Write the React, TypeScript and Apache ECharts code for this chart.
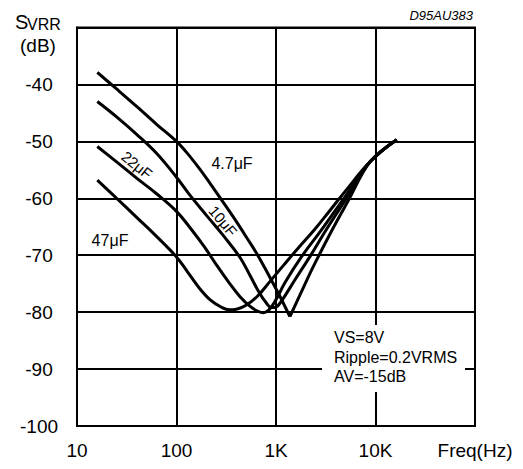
import React, { useEffect, useRef } from 'react';
import * as echarts from 'echarts';

// Axis ticks
const xTickValues = [10, 100, 1000, 10000, 100000];
const xTickLabels = ['10', '100', '1K', '10K', 'Freq(Hz)'];
const yTickValues = [-100, -90, -80, -70, -60, -50, -40, -30];
const yTickLabels = ['-100', '-90', '-80', '-70', '-60', '-50', '-40', ''];

// Curves (frequency in Hz, SVRR in dB)
const curveNames = ['4.7μF', '10μF', '22μF', '47μF'];

const freq4u7 = [16, 25, 40, 63, 100, 130, 170, 220, 300, 400, 520, 640, 870, 1100, 1380, 2036, 2466, 3630, 5333, 8810, 16330];
const db4u7 = [-37.9, -40.8, -43.9, -47.0, -50.0, -52.2, -54.8, -57.5, -60.9, -64.1, -67.2, -69.7, -73.9, -77.3, -80.8, -74.4, -71.4, -65.7, -60.4, -53.6, -49.7];

const freq10u = [16, 25, 40, 63, 100, 137, 200, 300, 435, 550, 680, 800, 900, 1000, 1150, 1552, 2200, 3233, 5300, 8810, 16330];
const db10u = [-43.0, -45.7, -48.8, -52.1, -56.3, -59.5, -63.0, -66.7, -70.4, -73.6, -76.6, -78.4, -79.2, -79.1, -77.9, -74.3, -70.2, -65.4, -59.6, -53.6, -49.7];

const freq22u = [16, 25, 40, 63, 100, 140, 190, 250, 330, 435, 550, 650, 750, 850, 1000, 1232, 1800, 2877, 5000, 8810, 16330];
const db22u = [-50.9, -53.6, -56.5, -59.2, -62.3, -65.4, -68.5, -71.6, -74.6, -77.3, -79.0, -79.8, -80.1, -79.6, -77.8, -74.8, -70.3, -65.5, -59.6, -53.6, -49.7];

const freq47u = [16, 25, 40, 63, 100, 130, 170, 220, 280, 340, 400, 500, 650, 871, 1200, 1700, 2468, 3500, 5000, 8810, 16330];
const db47u = [-56.8, -60.0, -63.4, -66.7, -70.3, -73.0, -75.8, -77.9, -79.1, -79.6, -79.5, -78.8, -77.2, -74.6, -71.7, -68.6, -65.4, -62.1, -58.7, -53.6, -49.7];

const conditions = ['VS=8V', 'Ripple=0.2VRMS', 'AV=-15dB'];
const figureId = 'D95AU383';

const FONT = '"Liberation Sans", Arial, Helvetica, sans-serif';

function pairs(f: number[], d: number[]) {
  return f.map((v, i) => [v, d[i]]);
}

export default function App() {
  const ref = useRef<HTMLDivElement>(null);

  useEffect(() => {
    if (!ref.current) return;
    const chart = echarts.init(ref.current, undefined, { renderer: 'svg' });

    const c1 = pairs(freq4u7, db4u7);
    let minIdx = 0;
    db4u7.forEach((v, i) => {
      if (v < db4u7[minIdx]) minIdx = i;
    });
    const lineStyle = { color: '#000', width: 3 };
    const base = {
      type: 'line' as const,
      showSymbol: false,
      symbol: 'none',
      lineStyle,
      z: 5,
    };

    const series: any[] = [
      { ...base, name: curveNames[0] + 'a', data: c1.slice(0, minIdx + 1), smooth: 0.35 },
      { ...base, name: curveNames[0] + 'b', data: c1.slice(minIdx), smooth: 0.35 },
      { ...base, name: curveNames[1], data: pairs(freq10u, db10u), smooth: 0.4 },
      { ...base, name: curveNames[2], data: pairs(freq22u, db22u), smooth: 0.4 },
      { ...base, name: curveNames[3], data: pairs(freq47u, db47u), smooth: 0.4 },
    ];

    const txt = (text: string, x: number, y: number, size: number, extra: any = {}) => ({
      type: 'text',
      x,
      y,
      z: 60,
      rotation: extra.rotation || 0,
      style: {
        text,
        fill: '#000',
        fontSize: size,
        fontFamily: FONT,
        fontStyle: extra.fontStyle || 'normal',
        align: extra.align || 'center',
        verticalAlign: 'middle',
      },
    });

    chart.setOption({
      animation: false,
      backgroundColor: '#fff',
      grid: {
        left: 77,
        right: 48,
        top: 27.5,
        bottom: 43,
        show: true,
        borderColor: '#000',
        borderWidth: 2,
        backgroundColor: 'transparent',
      },
      xAxis: {
        type: 'log',
        logBase: 10,
        min: 10,
        max: 100000,
        axisLine: { show: true, lineStyle: { color: '#000', width: 2 } },
        axisTick: { show: false },
        splitLine: { show: true, lineStyle: { color: '#000', width: 2 } },
        axisLabel: {
          show: true,
          color: '#000',
          fontSize: 19,
          fontFamily: FONT,
          margin: 15,
          showMinLabel: true,
          showMaxLabel: true,
          formatter: (v: number) => {
            const idx = xTickValues.findIndex((t) => Math.abs(Math.log10(t) - Math.log10(v)) < 1e-6);
            return idx >= 0 ? xTickLabels[idx] : '';
          },
        },
      },
      yAxis: {
        type: 'value',
        min: -100,
        max: -30,
        interval: 10,
        axisLine: { show: true, lineStyle: { color: '#000', width: 2 } },
        axisTick: { show: false },
        splitLine: { show: true, lineStyle: { color: '#000', width: 2 } },
        axisLabel: {
          color: '#000',
          fontSize: 19,
          fontFamily: FONT,
          align: 'center',
          margin: 38,
          padding: [7, 0, 0, 0],
          formatter: (v: number) => {
            const idx = yTickValues.findIndex((t) => Math.abs(t - v) < 1e-6);
            return idx >= 0 ? yTickLabels[idx] : '';
          },
        },
      },
      graphic: [
        {
          type: 'rect',
          z: 50,
          shape: { x: 322, y: 325, width: 143, height: 67 },
          style: { fill: '#fff' },
        },
        txt(conditions[0], 334, 337, 16, { align: 'left' }),
        txt(conditions[1], 334, 357, 16, { align: 'left' }),
        txt(conditions[2], 334, 376, 16, { align: 'left' }),
        txt(figureId, 473, 15, 13, { align: 'right', fontStyle: 'italic' }),
        txt('S', 15, 22, 20, { align: 'left' }),
        txt('VRR', 27, 24, 16, { align: 'left' }),
        txt('(dB)', 38, 45, 19),
        txt(curveNames[0], 232, 163, 16),
        txt(curveNames[1], 223, 221, 15, { rotation: -0.88 }),
        txt(curveNames[2], 137, 165, 15, { rotation: -0.68 }),
        txt(curveNames[3], 110, 240, 16),
      ],
      series,
    });

    return () => chart.dispose();
  }, []);

  return (
    <div
      ref={ref}
      style={{ position: 'fixed', left: 0, top: 0, width: 523, height: 469, background: '#fff' }}
    />
  );
}
